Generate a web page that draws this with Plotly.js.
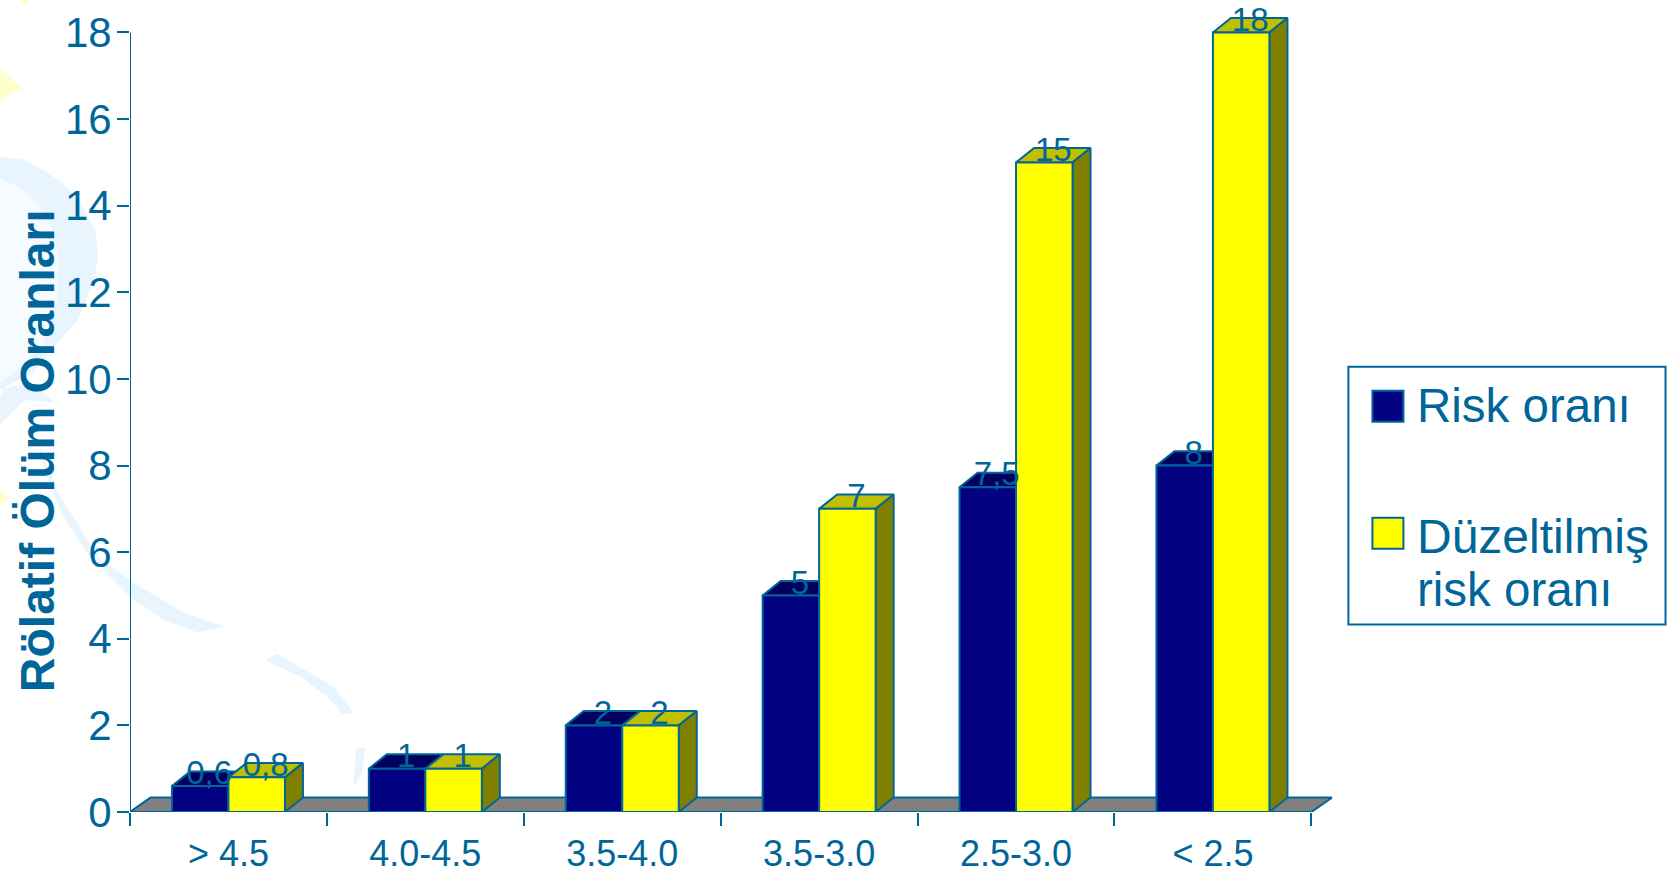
<!DOCTYPE html>
<html>
<head>
<meta charset="utf-8">
<script src="https://cdn.plot.ly/plotly-3.0.1.min.js"></script>
<style>html,body{margin:0;padding:0;background:#fff;overflow:hidden}#chart{width:1674px;height:873px}</style>
</head>
<body>
<div id="chart"></div>
<script>
// ---- data ----
const categories = ['> 4.5', '4.0-4.5', '3.5-4.0', '3.5-3.0', '2.5-3.0', '< 2.5'];
const riskValues = [0.6, 1, 2, 5, 7.5, 8];
const adjustedValues = [0.8, 1, 2, 7, 15, 18];
const yTicks = [0, 2, 4, 6, 8, 10, 12, 14, 16, 18];
const yTitle = 'Rölatif Ölüm Oranları';
const legendRiskLines = ['Risk oranı'];
const legendAdjustedLines = ['Düzeltilmiş', 'risk oranı'];

// ---- look ----
const INK = '#006699', FONT = 'Liberation Sans, Arial, sans-serif';
const NAVY = '#000080', NAVY_TOP = '#000060', NAVY_SIDE = '#000040';
const YEL = '#FFFF00', YEL_TOP = '#C0C000', YEL_SIDE = '#808000', FLOOR = '#808080';
const BAND = '#E8F5FF', DISC = '#F5FBFF', PALE_Y = '#FFFFCC';

// ---- page geometry ----
const W = 1674, H = 873, L = 130, B = 812.5, UNIT_X = 196.83;
const xRange = [-0.5, 5.62], yRange = [0, 18.75];
const PW = (xRange[1] - xRange[0]) * UNIT_X;
const BAR_W = 0.287, DX = 18 / UNIT_X, DY = 14.4 / (B / yRange[1]);
const FLOOR_DX = 20.5 / UNIT_X;
const px = (x) => (x - L) / PW, py = (y) => (B - y) / B;

// ---- 3-D faces, from the values ----
function faces(vals, x0Of) {
  const top = { x: [], y: [] }, side = { x: [], y: [] };
  vals.forEach((v, i) => {
    const a = x0Of(i), b = a + BAR_W;
    top.x.push(a, a + DX, b + DX, b, a, null);
    top.y.push(v, v + DY, v + DY, v, v, null);
    side.x.push(b, b + DX, b + DX, b, b, null);
    side.y.push(0, DY, v + DY, v, 0, null);
  });
  return { top, side };
}
const blue = faces(riskValues, i => i - BAR_W);
const yel = faces(adjustedValues, i => i);
const poly = (p, fill) => ({
  type: 'scatter', mode: 'lines', x: p.x, y: p.y, fill: 'toself', fillcolor: fill,
  line: { color: INK, width: 2 }, hoverinfo: 'skip', showlegend: false, xaxis: 'x', yaxis: 'y'
});
const floor = {
  x: [xRange[0], xRange[0] + FLOOR_DX, 5.5 + FLOOR_DX, 5.5, xRange[0]],
  y: [0, DY, DY, 0, 0]
};
const fmt = v => String(v).replace('.', ',');
const LABEL_LIFT = -0.15;
const labels = (vals, off, name) => ({
  type: 'scatter', mode: 'text', name,
  x: vals.map((v, i) => i + off), y: vals.map(v => v + LABEL_LIFT),
  text: vals.map(fmt), textposition: 'top center',
  textfont: { family: FONT, size: 33, color: INK },
  cliponaxis: false, hoverinfo: 'skip', showlegend: false, xaxis: 'x3', yaxis: 'y'
});
const bar = (vals, name, color) => ({
  type: 'bar', name, x: categories, y: vals, xaxis: 'x2', yaxis: 'y',
  marker: { color, line: { color: INK, width: 2 } }, showlegend: false
});

const traces = [
  poly(floor, FLOOR),
  poly(blue.side, NAVY_SIDE), poly(blue.top, NAVY_TOP),
  poly(yel.top, YEL_TOP), poly(yel.side, YEL_SIDE),
  bar(riskValues, legendRiskLines.join(' '), NAVY),
  bar(adjustedValues, legendAdjustedLines.join(' '), YEL),
  labels(riskValues, -BAR_W / 2 + DX / 2, 'risk labels'),
  labels(adjustedValues, BAR_W / 2 + DX / 2, 'adjusted labels')
];

// ---- faint slide background ----
const pathOf = (pts) => 'M' + pts.map(p => px(p[0]) + ',' + py(p[1])).join('L') + 'Z';
const deco = (pts, fill) => ({ type: 'path', xref: 'paper', yref: 'paper', layer: 'below',
  path: pathOf(pts), fillcolor: fill, line: { width: 0 } });
const bgShapes = [
  deco([[0,68],[22,88],[0,100]], PALE_Y),
  deco([[20,0],[28,0],[25,5]], PALE_Y),
  deco([[0,490],[7,498],[0,507]], PALE_Y),
  deco([[0,157],[23,159],[43,170],[63,183],[83,207],[96,233],[98,257],[95,277],[78,320],[60,340],[33,373],[0,390]], BAND),
  deco([[0,178],[20,188],[37,203],[53,230],[59,257],[57,300],[43,345],[20,368],[0,383]], DISC),
  deco([[3,389],[33,383],[55,403],[25,400],[0,425],[0,400]], BAND),
  deco([[37,440],[60,497],[100,560],[140,587],[183,613],[225,627],[198,633],[163,620],[130,597],[90,557],[63,517],[47,477]], BAND),
  deco([[265,661],[277,654],[333,687],[354,714],[343,715],[327,697],[300,677]], BAND),
  deco([[356,749],[365,748],[362,773],[353,788],[355,763]], BAND)
];
const rectPx = (x0, y0, x1, y1, fill, lw) => ({
  type: 'rect', xref: 'paper', yref: 'paper', layer: 'above',
  x0: px(x0), x1: px(x1), y0: py(y0), y1: py(y1),
  fillcolor: fill, line: { color: INK, width: lw }
});
const legendShapes = [
  rectPx(1348, 367, 1665, 625, 'rgba(255,255,255,0)', 2),
  rectPx(1372, 391, 1403, 422, NAVY, 2),
  rectPx(1372, 518, 1403, 549, YEL, 2)
];
const axisLine = { type: 'line', xref: 'x', yref: 'y', layer: 'above',
  x0: xRange[0], x1: xRange[0], y0: yTicks[0], y1: yTicks[yTicks.length - 1],
  line: { color: INK, width: 2 } };

const txt = (text, x, y, size, extra) => Object.assign({
  text, xref: 'paper', yref: 'paper', x: px(x), y: py(y), showarrow: false,
  xanchor: 'left', yanchor: 'middle', borderpad: 0,
  font: { family: FONT, size, color: INK }
}, extra || {});
const annotations = [
  txt('<b>' + yTitle + '</b>', 37, 450.5, 48, { textangle: -90, xanchor: 'center' }),
  txt(legendRiskLines[0], 1416, 406, 47.5),
  txt(legendAdjustedLines[0], 1416, 537, 48),
  txt(legendAdjustedLines[1], 1416, 590, 47.5)
];

const layout = {
  width: W, height: H, showlegend: false, hovermode: false,
  paper_bgcolor: '#ffffff', plot_bgcolor: 'rgba(0,0,0,0)',
  margin: { l: L, r: W - L - PW, t: 0, b: H - B, pad: 0 },
  barmode: 'group', bargap: 1 - 2 * BAR_W, bargroupgap: 0,
  xaxis: { type: 'linear', range: xRange, visible: false, fixedrange: true },
  xaxis2: {
    type: 'category', overlaying: 'x', anchor: 'y', side: 'bottom', range: xRange,
    categoryorder: 'array', categoryarray: categories,
    tickson: 'boundaries', ticks: 'outside', ticklen: 13, tickwidth: 2, tickcolor: INK,
    showline: false, showgrid: false, zeroline: false, fixedrange: true,
    tickfont: { family: FONT, size: 36, color: INK }, tickangle: 0, ticklabelstandoff: 17
  },
  xaxis3: { type: 'linear', overlaying: 'x', anchor: 'y', range: xRange, visible: false, fixedrange: true },
  yaxis: {
    range: yRange, tickmode: 'array', tickvals: yTicks, ticktext: yTicks.map(String),
    ticks: 'outside', ticklen: 12, tickwidth: 2, tickcolor: INK,
    showline: false, showgrid: false, zeroline: false, fixedrange: true,
    tickfont: { family: FONT, size: 42, color: INK }, ticklabelstandoff: -3
  },
  shapes: bgShapes.concat(legendShapes, [axisLine]),
  annotations
};
Plotly.newPlot('chart', traces, layout, { displayModeBar: false, staticPlot: true });
</script>
</body>
</html>
